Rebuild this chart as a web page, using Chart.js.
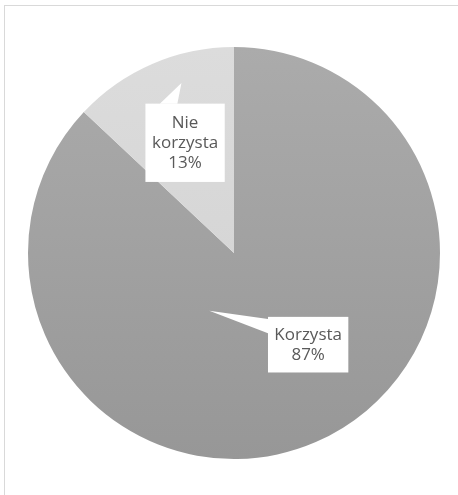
<!DOCTYPE html>
<html>
<head>
<meta charset="utf-8">
<script src="https://cdn.jsdelivr.net/npm/chart.js@4"></script>
<style>
html,body{margin:0;padding:0;background:#fff;overflow:hidden}
#frame{position:absolute;left:4px;top:5px;width:480px;height:520px;border:1px solid #d9d9d9}
#wrap{position:absolute;left:0;top:0;width:458px;height:495px}
</style>
</head>
<body>
<div id="frame"></div>
<div id="wrap"><canvas id="chart"></canvas></div>
<script>
const labels = ["Korzysta", "Nie korzysta"]
const values = [87, 13]
const percentLabels = ["87%", "13%"]
const colors = ["#a5a5a5", "#d9d9d9"]

// callout boxes: offsets relative to pie centre, in units of radius
const callouts = [
{lines:["Korzysta", percentLabels[0]], box:[0.165,0.31,0.39,0.27], tip:[-0.12,0.28], base:[[0.165,0.32],[0.165,0.39]]},
{lines:["Nie","korzysta", percentLabels[1]], box:[-0.43,-0.725,0.385,0.38], tip:[-0.255,-0.825], base:[[-0.36,-0.725],[-0.275,-0.725]]}
]

const calloutPlugin = {
id:"callouts",
afterDatasetsDraw(chart){
const arc = chart.getDatasetMeta(0).data[0]
const cx = arc.x, cy = arc.y, r = arc.outerRadius
const ctx = chart.ctx
ctx.save()
callouts.forEach(c=>{
const bx = cx + c.box[0]*r, by = cy + c.box[1]*r
const bw = c.box[2]*r, bh = c.box[3]*r
ctx.fillStyle = "#ffffff"
ctx.fillRect(bx,by,bw,bh)
ctx.beginPath()
ctx.moveTo(cx + c.base[0][0]*r, cy + c.base[0][1]*r)
ctx.lineTo(cx + c.tip[0]*r, cy + c.tip[1]*r)
ctx.lineTo(cx + c.base[1][0]*r, cy + c.base[1][1]*r)
ctx.closePath()
ctx.fill()
ctx.fillStyle = "#595959"
ctx.font = "17px 'Open Sans', sans-serif"
ctx.textAlign = "center"
ctx.textBaseline = "middle"
const lh = 20
const start = by + bh/2 - (c.lines.length-1)*lh/2
c.lines.forEach((t,i)=>{
ctx.fillText(t, bx + bw/2, start + i*lh)
})
})
ctx.restore()
}
}

const ctx = document.getElementById("chart").getContext("2d")

function sliceFill(context){
const i = context.dataIndex
const chart = context.chart
const area = chart.chartArea
if(!area) return colors[i]
const g = chart.ctx.createLinearGradient(0, area.top, 0, area.bottom)
if(i===0){
g.addColorStop(0,"#ababab")
g.addColorStop(1,"#979797")
}else{
g.addColorStop(0,"#dcdcdc")
g.addColorStop(1,"#d0d0d0")
}
return g
}

new Chart(ctx,{
type:"pie",
data:{
labels:labels,
datasets:[{
data:values,
backgroundColor:sliceFill,
borderColor:"rgba(0,0,0,0)",
borderWidth:0
}]
},
options:{
responsive:true,
maintainAspectRatio:false,
animation:false,
layout:{padding:{left:28,right:18,top:47,bottom:36}},
plugins:{
legend:{display:false},
tooltip:{enabled:false}
}
},
plugins:[calloutPlugin]
})
</script>
</body>
</html>
